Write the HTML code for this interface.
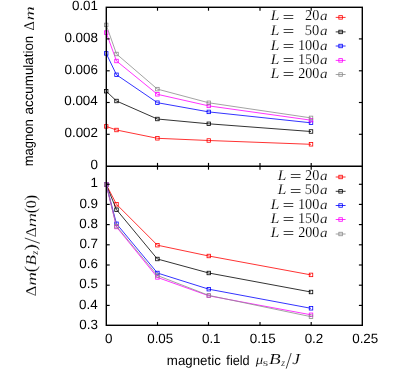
<!DOCTYPE html>
<html><head><meta charset="utf-8"><style>
html,body{margin:0;padding:0;background:#fff}
svg{display:block}
text{fill:#000;text-rendering:geometricPrecision}
.san{font-family:"Liberation Sans",sans-serif}
.ser{font-family:"Liberation Serif",serif;stroke:#fff;stroke-width:0.12px}
.it{font-style:italic}
</style></head><body>
<svg width="407" height="369" viewBox="0 0 407 369">
<rect width="407" height="369" fill="#fff"/>
<polyline points="106.2,126.4 116.5,130.0 157.4,138.3 208.8,140.5 311.0,144.3" fill="none" stroke="#ff0000" stroke-width="0.8"/>
<rect x="104.45" y="124.65" width="3.5" height="3.5" fill="none" stroke="#ff0000" stroke-width="0.8"/>
<rect x="114.75" y="128.25" width="3.5" height="3.5" fill="none" stroke="#ff0000" stroke-width="0.8"/>
<rect x="155.65" y="136.55" width="3.5" height="3.5" fill="none" stroke="#ff0000" stroke-width="0.8"/>
<rect x="207.05" y="138.75" width="3.5" height="3.5" fill="none" stroke="#ff0000" stroke-width="0.8"/>
<rect x="309.25" y="142.55" width="3.5" height="3.5" fill="none" stroke="#ff0000" stroke-width="0.8"/>
<polyline points="106.2,91.2 116.5,101.0 157.4,119.0 208.8,123.8 311.0,131.5" fill="none" stroke="#000000" stroke-width="0.8"/>
<rect x="104.45" y="89.45" width="3.5" height="3.5" fill="none" stroke="#000000" stroke-width="0.8"/>
<rect x="114.75" y="99.25" width="3.5" height="3.5" fill="none" stroke="#000000" stroke-width="0.8"/>
<rect x="155.65" y="117.25" width="3.5" height="3.5" fill="none" stroke="#000000" stroke-width="0.8"/>
<rect x="207.05" y="122.05" width="3.5" height="3.5" fill="none" stroke="#000000" stroke-width="0.8"/>
<rect x="309.25" y="129.75" width="3.5" height="3.5" fill="none" stroke="#000000" stroke-width="0.8"/>
<polyline points="106.2,53.4 116.5,74.8 157.4,102.7 208.8,111.9 311.0,122.8" fill="none" stroke="#0000ff" stroke-width="0.8"/>
<rect x="104.45" y="51.65" width="3.5" height="3.5" fill="none" stroke="#0000ff" stroke-width="0.8"/>
<rect x="114.75" y="73.05" width="3.5" height="3.5" fill="none" stroke="#0000ff" stroke-width="0.8"/>
<rect x="155.65" y="100.95" width="3.5" height="3.5" fill="none" stroke="#0000ff" stroke-width="0.8"/>
<rect x="207.05" y="110.15" width="3.5" height="3.5" fill="none" stroke="#0000ff" stroke-width="0.8"/>
<rect x="309.25" y="121.05" width="3.5" height="3.5" fill="none" stroke="#0000ff" stroke-width="0.8"/>
<polyline points="106.2,32.6 116.5,61.0 157.4,94.3 208.8,105.9 311.0,120.2" fill="none" stroke="#ff00ff" stroke-width="0.8"/>
<rect x="104.45" y="30.85" width="3.5" height="3.5" fill="none" stroke="#ff00ff" stroke-width="0.8"/>
<rect x="114.75" y="59.25" width="3.5" height="3.5" fill="none" stroke="#ff00ff" stroke-width="0.8"/>
<rect x="155.65" y="92.55" width="3.5" height="3.5" fill="none" stroke="#ff00ff" stroke-width="0.8"/>
<rect x="207.05" y="104.15" width="3.5" height="3.5" fill="none" stroke="#ff00ff" stroke-width="0.8"/>
<rect x="309.25" y="118.45" width="3.5" height="3.5" fill="none" stroke="#ff00ff" stroke-width="0.8"/>
<polyline points="106.2,24.9 116.5,54.0 157.4,89.1 208.8,102.8 311.0,117.9" fill="none" stroke="#8c8c8c" stroke-width="0.8"/>
<rect x="104.45" y="23.15" width="3.5" height="3.5" fill="none" stroke="#8c8c8c" stroke-width="0.8"/>
<rect x="114.75" y="52.25" width="3.5" height="3.5" fill="none" stroke="#8c8c8c" stroke-width="0.8"/>
<rect x="155.65" y="87.35" width="3.5" height="3.5" fill="none" stroke="#8c8c8c" stroke-width="0.8"/>
<rect x="207.05" y="101.05" width="3.5" height="3.5" fill="none" stroke="#8c8c8c" stroke-width="0.8"/>
<rect x="309.25" y="116.15" width="3.5" height="3.5" fill="none" stroke="#8c8c8c" stroke-width="0.8"/>
<polyline points="106.2,184.5 116.5,204.3 157.4,245.2 208.8,256.0 311.0,274.9" fill="none" stroke="#ff0000" stroke-width="0.8"/>
<rect x="104.45" y="182.75" width="3.5" height="3.5" fill="none" stroke="#ff0000" stroke-width="0.8"/>
<rect x="114.75" y="202.55" width="3.5" height="3.5" fill="none" stroke="#ff0000" stroke-width="0.8"/>
<rect x="155.65" y="243.45" width="3.5" height="3.5" fill="none" stroke="#ff0000" stroke-width="0.8"/>
<rect x="207.05" y="254.25" width="3.5" height="3.5" fill="none" stroke="#ff0000" stroke-width="0.8"/>
<rect x="309.25" y="273.15" width="3.5" height="3.5" fill="none" stroke="#ff0000" stroke-width="0.8"/>
<polyline points="106.2,184.5 116.5,209.7 157.4,259.0 208.8,273.0 311.0,292.0" fill="none" stroke="#000000" stroke-width="0.8"/>
<rect x="104.45" y="182.75" width="3.5" height="3.5" fill="none" stroke="#000000" stroke-width="0.8"/>
<rect x="114.75" y="207.95" width="3.5" height="3.5" fill="none" stroke="#000000" stroke-width="0.8"/>
<rect x="155.65" y="257.25" width="3.5" height="3.5" fill="none" stroke="#000000" stroke-width="0.8"/>
<rect x="207.05" y="271.25" width="3.5" height="3.5" fill="none" stroke="#000000" stroke-width="0.8"/>
<rect x="309.25" y="290.25" width="3.5" height="3.5" fill="none" stroke="#000000" stroke-width="0.8"/>
<polyline points="106.2,184.5 116.5,223.8 157.4,273.0 208.8,289.2 311.0,308.3" fill="none" stroke="#0000ff" stroke-width="0.8"/>
<rect x="104.45" y="182.75" width="3.5" height="3.5" fill="none" stroke="#0000ff" stroke-width="0.8"/>
<rect x="114.75" y="222.05" width="3.5" height="3.5" fill="none" stroke="#0000ff" stroke-width="0.8"/>
<rect x="155.65" y="271.25" width="3.5" height="3.5" fill="none" stroke="#0000ff" stroke-width="0.8"/>
<rect x="207.05" y="287.45" width="3.5" height="3.5" fill="none" stroke="#0000ff" stroke-width="0.8"/>
<rect x="309.25" y="306.55" width="3.5" height="3.5" fill="none" stroke="#0000ff" stroke-width="0.8"/>
<polyline points="106.2,184.5 116.5,227.0 157.4,277.4 208.8,295.8 311.0,314.8" fill="none" stroke="#ff00ff" stroke-width="0.8"/>
<rect x="104.45" y="182.75" width="3.5" height="3.5" fill="none" stroke="#ff00ff" stroke-width="0.8"/>
<rect x="114.75" y="225.25" width="3.5" height="3.5" fill="none" stroke="#ff00ff" stroke-width="0.8"/>
<rect x="155.65" y="275.65" width="3.5" height="3.5" fill="none" stroke="#ff00ff" stroke-width="0.8"/>
<rect x="207.05" y="294.05" width="3.5" height="3.5" fill="none" stroke="#ff00ff" stroke-width="0.8"/>
<rect x="309.25" y="313.05" width="3.5" height="3.5" fill="none" stroke="#ff00ff" stroke-width="0.8"/>
<polyline points="106.2,184.5 116.5,226.3 157.4,275.5 208.8,295.4 311.0,316.7" fill="none" stroke="#8c8c8c" stroke-width="0.8"/>
<rect x="104.45" y="182.75" width="3.5" height="3.5" fill="none" stroke="#8c8c8c" stroke-width="0.8"/>
<rect x="114.75" y="224.55" width="3.5" height="3.5" fill="none" stroke="#8c8c8c" stroke-width="0.8"/>
<rect x="155.65" y="273.75" width="3.5" height="3.5" fill="none" stroke="#8c8c8c" stroke-width="0.8"/>
<rect x="207.05" y="293.65" width="3.5" height="3.5" fill="none" stroke="#8c8c8c" stroke-width="0.8"/>
<rect x="309.25" y="314.95" width="3.5" height="3.5" fill="none" stroke="#8c8c8c" stroke-width="0.8"/>
<line x1="335.7" y1="17.4" x2="345.6" y2="17.4" stroke="#ff0000" stroke-width="0.8"/>
<rect x="338.85" y="15.65" width="3.5" height="3.5" fill="none" stroke="#ff0000" stroke-width="0.8"/>
<line x1="335.7" y1="31.9" x2="345.6" y2="31.9" stroke="#000000" stroke-width="0.8"/>
<rect x="338.85" y="30.20" width="3.5" height="3.5" fill="none" stroke="#000000" stroke-width="0.8"/>
<line x1="335.7" y1="46.0" x2="345.6" y2="46.0" stroke="#0000ff" stroke-width="0.8"/>
<rect x="338.85" y="44.25" width="3.5" height="3.5" fill="none" stroke="#0000ff" stroke-width="0.8"/>
<line x1="335.7" y1="60.4" x2="345.6" y2="60.4" stroke="#ff00ff" stroke-width="0.8"/>
<rect x="338.85" y="58.65" width="3.5" height="3.5" fill="none" stroke="#ff00ff" stroke-width="0.8"/>
<line x1="335.7" y1="74.5" x2="345.6" y2="74.5" stroke="#8c8c8c" stroke-width="0.8"/>
<rect x="338.85" y="72.75" width="3.5" height="3.5" fill="none" stroke="#8c8c8c" stroke-width="0.8"/>
<line x1="335.7" y1="177.0" x2="345.6" y2="177.0" stroke="#ff0000" stroke-width="0.8"/>
<rect x="338.85" y="175.25" width="3.5" height="3.5" fill="none" stroke="#ff0000" stroke-width="0.8"/>
<line x1="335.7" y1="191.3" x2="345.6" y2="191.3" stroke="#000000" stroke-width="0.8"/>
<rect x="338.85" y="189.60" width="3.5" height="3.5" fill="none" stroke="#000000" stroke-width="0.8"/>
<line x1="335.7" y1="205.5" x2="345.6" y2="205.5" stroke="#0000ff" stroke-width="0.8"/>
<rect x="338.85" y="203.75" width="3.5" height="3.5" fill="none" stroke="#0000ff" stroke-width="0.8"/>
<line x1="335.7" y1="219.5" x2="345.6" y2="219.5" stroke="#ff00ff" stroke-width="0.8"/>
<rect x="338.85" y="217.75" width="3.5" height="3.5" fill="none" stroke="#ff00ff" stroke-width="0.8"/>
<line x1="335.7" y1="234.0" x2="345.6" y2="234.0" stroke="#8c8c8c" stroke-width="0.8"/>
<rect x="338.85" y="232.25" width="3.5" height="3.5" fill="none" stroke="#8c8c8c" stroke-width="0.8"/>
<rect x="106.3" y="7.3" width="256.0" height="318.0" fill="none" stroke="#000" stroke-width="1.4"/>
<line x1="106.3" y1="166.3" x2="362.3" y2="166.3" stroke="#000" stroke-width="1.4"/>
<line x1="157.5" y1="7.3" x2="157.5" y2="10.7" stroke="#000" stroke-width="1.15"/>
<line x1="157.5" y1="162.90000000000003" x2="157.5" y2="169.7" stroke="#000" stroke-width="1.15"/>
<line x1="157.5" y1="321.90000000000003" x2="157.5" y2="325.3" stroke="#000" stroke-width="1.15"/>
<line x1="208.5" y1="7.3" x2="208.5" y2="10.7" stroke="#000" stroke-width="1.15"/>
<line x1="208.5" y1="162.90000000000003" x2="208.5" y2="169.7" stroke="#000" stroke-width="1.15"/>
<line x1="208.5" y1="321.90000000000003" x2="208.5" y2="325.3" stroke="#000" stroke-width="1.15"/>
<line x1="260.0" y1="7.3" x2="260.0" y2="10.7" stroke="#000" stroke-width="1.15"/>
<line x1="260.0" y1="162.90000000000003" x2="260.0" y2="169.7" stroke="#000" stroke-width="1.15"/>
<line x1="260.0" y1="321.90000000000003" x2="260.0" y2="325.3" stroke="#000" stroke-width="1.15"/>
<line x1="311.2" y1="7.3" x2="311.2" y2="10.7" stroke="#000" stroke-width="1.15"/>
<line x1="311.2" y1="162.90000000000003" x2="311.2" y2="169.7" stroke="#000" stroke-width="1.15"/>
<line x1="311.2" y1="321.90000000000003" x2="311.2" y2="325.3" stroke="#000" stroke-width="1.15"/>
<line x1="106.3" y1="38.9" x2="109.7" y2="38.9" stroke="#000" stroke-width="1.15"/>
<line x1="358.90000000000003" y1="38.9" x2="362.3" y2="38.9" stroke="#000" stroke-width="1.15"/>
<line x1="106.3" y1="70.8" x2="109.7" y2="70.8" stroke="#000" stroke-width="1.15"/>
<line x1="358.90000000000003" y1="70.8" x2="362.3" y2="70.8" stroke="#000" stroke-width="1.15"/>
<line x1="106.3" y1="102.5" x2="109.7" y2="102.5" stroke="#000" stroke-width="1.15"/>
<line x1="358.90000000000003" y1="102.5" x2="362.3" y2="102.5" stroke="#000" stroke-width="1.15"/>
<line x1="106.3" y1="134.3" x2="109.7" y2="134.3" stroke="#000" stroke-width="1.15"/>
<line x1="358.90000000000003" y1="134.3" x2="362.3" y2="134.3" stroke="#000" stroke-width="1.15"/>
<line x1="106.3" y1="184.3" x2="109.7" y2="184.3" stroke="#000" stroke-width="1.15"/>
<line x1="358.90000000000003" y1="184.3" x2="362.3" y2="184.3" stroke="#000" stroke-width="1.15"/>
<line x1="106.3" y1="204.4" x2="109.7" y2="204.4" stroke="#000" stroke-width="1.15"/>
<line x1="358.90000000000003" y1="204.4" x2="362.3" y2="204.4" stroke="#000" stroke-width="1.15"/>
<line x1="106.3" y1="224.6" x2="109.7" y2="224.6" stroke="#000" stroke-width="1.15"/>
<line x1="358.90000000000003" y1="224.6" x2="362.3" y2="224.6" stroke="#000" stroke-width="1.15"/>
<line x1="106.3" y1="244.8" x2="109.7" y2="244.8" stroke="#000" stroke-width="1.15"/>
<line x1="358.90000000000003" y1="244.8" x2="362.3" y2="244.8" stroke="#000" stroke-width="1.15"/>
<line x1="106.3" y1="265.0" x2="109.7" y2="265.0" stroke="#000" stroke-width="1.15"/>
<line x1="358.90000000000003" y1="265.0" x2="362.3" y2="265.0" stroke="#000" stroke-width="1.15"/>
<line x1="106.3" y1="285.2" x2="109.7" y2="285.2" stroke="#000" stroke-width="1.15"/>
<line x1="358.90000000000003" y1="285.2" x2="362.3" y2="285.2" stroke="#000" stroke-width="1.15"/>
<line x1="106.3" y1="305.4" x2="109.7" y2="305.4" stroke="#000" stroke-width="1.15"/>
<line x1="358.90000000000003" y1="305.4" x2="362.3" y2="305.4" stroke="#000" stroke-width="1.15"/>
<defs><filter id="idf" x="0" y="0" width="407" height="369" filterUnits="userSpaceOnUse"><feOffset dx="0" dy="0"/></filter></defs><g filter="url(#idf)">
<text class="san" font-size="13.4" x="71.94" y="10.10">0.01</text>
<text class="san" font-size="13.4" x="64.42" y="41.80">0.008</text>
<text class="san" font-size="13.4" x="64.42" y="73.70">0.006</text>
<text class="san" font-size="13.4" x="64.22" y="105.40">0.004</text>
<text class="san" font-size="13.4" x="64.49" y="137.20">0.002</text>
<text class="san" font-size="13.4" x="90.43" y="169.10">0</text>
<text class="san" font-size="13.4" x="90.57" y="187.40">1</text>
<text class="san" font-size="13.4" x="79.39" y="207.50">0.9</text>
<text class="san" font-size="13.4" x="79.32" y="227.70">0.8</text>
<text class="san" font-size="13.4" x="79.39" y="247.90">0.7</text>
<text class="san" font-size="13.4" x="79.32" y="268.10">0.6</text>
<text class="san" font-size="13.4" x="79.32" y="288.30">0.5</text>
<text class="san" font-size="13.4" x="79.12" y="308.50">0.4</text>
<text class="san" font-size="13.4" x="79.32" y="328.60">0.3</text>
<text class="san" font-size="13.4" x="104.98" y="342.6">0</text>
<text class="san" font-size="13.4" x="147.20" y="342.6">0.05</text>
<text class="san" font-size="13.4" x="201.96" y="342.6">0.1</text>
<text class="san" font-size="13.4" x="249.70" y="342.6">0.15</text>
<text class="san" font-size="13.4" x="304.66" y="342.6">0.2</text>
<text class="san" font-size="13.4" x="352.20" y="342.6">0.25</text>
<text class="san" font-size="13.6" transform="translate(166.83,364.50) scale(0.979,1)">magnetic</text>
<text class="san" font-size="13.6" transform="translate(226.37,364.50) scale(0.934,1)">field</text>
<text class="ser it" font-size="13.4" transform="translate(255.67,364.40) scale(1.100,1)">μ</text>
<text class="ser" font-size="10.2" transform="translate(262.64,366.20) scale(1.369,1)">s</text>
<text class="ser it" font-size="15.2" transform="translate(269.10,364.40) scale(1.260,1)">B</text>
<text class="ser it" font-size="10.2" transform="translate(281.25,366.20) scale(0.968,1)">z</text>
<text class="ser it" font-size="15.2" transform="translate(292.34,364.40) scale(1.162,1)">J</text>
<text class="ser it" font-size="15.0" transform="translate(270.73,20.30) scale(1.029,1)">L</text>
<text class="ser" font-size="14.8" transform="translate(282.55,21.50) scale(1.422,1)">=</text>
<text class="ser" font-size="15.0" transform="translate(305.03,20.30) scale(0.951,1)">20</text>
<text class="ser it" font-size="13.2" transform="translate(319.92,20.30) scale(1.154,1)">a</text>
<text class="ser it" font-size="15.0" transform="translate(270.73,34.70) scale(1.029,1)">L</text>
<text class="ser" font-size="14.8" transform="translate(282.55,35.90) scale(1.422,1)">=</text>
<text class="ser" font-size="15.0" transform="translate(304.80,34.70) scale(0.967,1)">50</text>
<text class="ser it" font-size="13.2" transform="translate(319.92,34.70) scale(1.154,1)">a</text>
<text class="ser it" font-size="15.0" transform="translate(270.73,49.60) scale(1.029,1)">L</text>
<text class="ser" font-size="14.8" transform="translate(282.55,50.80) scale(1.422,1)">=</text>
<text class="ser" font-size="15.0" transform="translate(297.89,49.60) scale(0.952,1)">100</text>
<text class="ser it" font-size="13.2" transform="translate(319.92,49.60) scale(1.154,1)">a</text>
<text class="ser it" font-size="15.0" transform="translate(270.73,63.70) scale(1.029,1)">L</text>
<text class="ser" font-size="14.8" transform="translate(282.55,64.90) scale(1.422,1)">=</text>
<text class="ser" font-size="15.0" transform="translate(297.89,63.70) scale(0.952,1)">150</text>
<text class="ser it" font-size="13.2" transform="translate(319.92,63.70) scale(1.154,1)">a</text>
<text class="ser it" font-size="15.0" transform="translate(270.73,77.90) scale(1.029,1)">L</text>
<text class="ser" font-size="14.8" transform="translate(282.55,79.10) scale(1.422,1)">=</text>
<text class="ser" font-size="15.0" transform="translate(298.14,77.90) scale(0.940,1)">200</text>
<text class="ser it" font-size="13.2" transform="translate(319.92,77.90) scale(1.154,1)">a</text>
<text class="ser it" font-size="15.0" transform="translate(277.73,179.70) scale(1.029,1)">L</text>
<text class="ser" font-size="14.8" transform="translate(289.65,180.90) scale(1.422,1)">=</text>
<text class="ser" font-size="15.0" transform="translate(305.03,179.70) scale(0.951,1)">20</text>
<text class="ser it" font-size="13.2" transform="translate(319.92,179.70) scale(1.154,1)">a</text>
<text class="ser it" font-size="15.0" transform="translate(277.73,194.30) scale(1.029,1)">L</text>
<text class="ser" font-size="14.8" transform="translate(289.65,195.50) scale(1.422,1)">=</text>
<text class="ser" font-size="15.0" transform="translate(304.80,194.30) scale(0.967,1)">50</text>
<text class="ser it" font-size="13.2" transform="translate(319.92,194.30) scale(1.154,1)">a</text>
<text class="ser it" font-size="15.0" transform="translate(270.73,208.70) scale(1.029,1)">L</text>
<text class="ser" font-size="14.8" transform="translate(282.55,209.90) scale(1.422,1)">=</text>
<text class="ser" font-size="15.0" transform="translate(297.89,208.70) scale(0.952,1)">100</text>
<text class="ser it" font-size="13.2" transform="translate(319.92,208.70) scale(1.154,1)">a</text>
<text class="ser it" font-size="15.0" transform="translate(270.73,222.90) scale(1.029,1)">L</text>
<text class="ser" font-size="14.8" transform="translate(282.55,224.10) scale(1.422,1)">=</text>
<text class="ser" font-size="15.0" transform="translate(297.89,222.90) scale(0.952,1)">150</text>
<text class="ser it" font-size="13.2" transform="translate(319.92,222.90) scale(1.154,1)">a</text>
<text class="ser it" font-size="15.0" transform="translate(270.73,237.20) scale(1.029,1)">L</text>
<text class="ser" font-size="14.8" transform="translate(282.55,238.40) scale(1.422,1)">=</text>
<text class="ser" font-size="15.0" transform="translate(298.14,237.20) scale(0.940,1)">200</text>
<text class="ser it" font-size="13.2" transform="translate(319.92,237.20) scale(1.154,1)">a</text>
<line x1="39.8" y1="243.3" x2="24.8" y2="238.0" stroke="#000" stroke-width="0.75"/>
<line x1="286.2" y1="368.6" x2="291.2" y2="353.0" stroke="#000" stroke-width="0.75"/>
<g transform="translate(33.6,165) rotate(-90)"><text class="san" font-size="13.6" transform="translate(-1.35,-0.40) scale(0.957,1)">magnon</text><text class="san" font-size="13.6" transform="translate(50.57,-0.40) scale(0.982,1)">accumulation</text><text class="ser" font-size="14.9" transform="translate(134.39,0.00) scale(0.980,1)">Δ</text><text class="ser it" font-size="13.4" transform="translate(144.61,0.00) scale(1.481,1)">m</text></g>
<g transform="translate(35.5,296.5) rotate(-90)"><text class="ser" font-size="14.9" transform="translate(-0.10,0.00) scale(1.144,1)">Δ</text><text class="ser it" font-size="13.4" transform="translate(10.83,0.00) scale(1.424,1)">m</text><text class="ser" font-size="16.7" transform="translate(24.00,0.80) scale(1.198,1)">(</text><text class="ser it" font-size="15.2" transform="translate(30.91,0.00) scale(1.125,1)">B</text><text class="ser it" font-size="10.2" transform="translate(41.65,2.00) scale(0.993,1)">z</text><text class="ser" font-size="16.7" transform="translate(45.69,0.80) scale(1.221,1)">)</text><text class="ser" font-size="14.9" transform="translate(59.25,0.00) scale(1.062,1)">Δ</text><text class="ser it" font-size="13.4" transform="translate(69.30,0.00) scale(1.493,1)">m</text><text class="ser" font-size="16.7" transform="translate(83.25,0.80) scale(0.972,1)">(</text><text class="ser" font-size="15.0" transform="translate(88.14,0.00) scale(1.070,1)">0</text><text class="ser" font-size="16.7" transform="translate(95.99,0.80) scale(1.013,1)">)</text></g>
</g>
</svg></body></html>
